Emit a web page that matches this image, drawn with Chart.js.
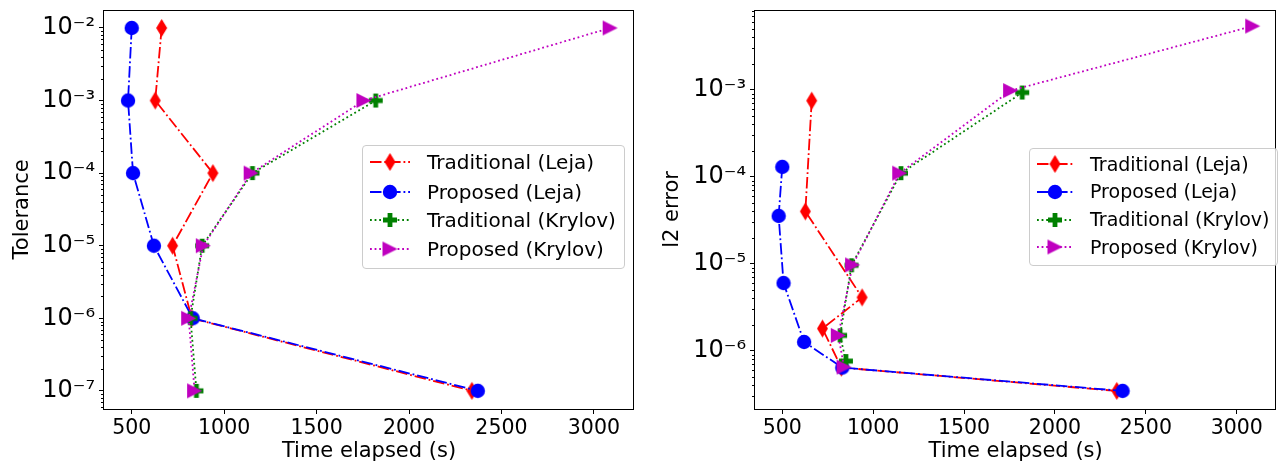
<!DOCTYPE html>
<html><head><meta charset="utf-8">
<script src="https://cdn.jsdelivr.net/npm/chart.js@4/dist/chart.umd.min.js"></script>
<style>
html,body{margin:0;padding:0;background:#fff;width:1286px;height:464px;overflow:hidden;font-family:"DejaVu Sans",sans-serif;}
.wrap{position:absolute;top:0;height:464px;}
.legend{position:absolute;background:rgba(255,255,255,0.8);border:1px solid #cccccc;border-radius:4px;box-sizing:border-box;}
.legend canvas{position:absolute;}
.legend span{position:absolute;white-space:nowrap;color:#000;font-family:"DejaVu Sans",sans-serif;}
</style></head><body>
<div class="wrap" style="left:0;width:650px"><canvas id="c1" width="650" height="464"></canvas></div>
<div class="wrap" style="left:650px;width:636px"><canvas id="c2" width="636" height="464"></canvas></div>
<div id="leg1" class="legend"></div>
<div id="leg2" class="legend"></div>
<script>
// ---- data ----
const seriesNames = ['Traditional (Leja)', 'Proposed (Leja)', 'Traditional (Krylov)', 'Proposed (Krylov)'];
const tolerance = [1e-2, 1e-3, 1e-4, 1e-5, 1e-6, 1e-7];
const timeTradLeja   = [662, 627, 939, 721, 825, 2340];
const timePropLeja   = [500, 480, 507, 620, 830, 2372];
const timeTradKrylov = [null, 1820, 1153, 881, 818, 850];
const timePropKrylov = [3088, 1756, 1146, 887, 808, 840];
const l2TradLeja   = [7.5e-4, 4.0e-5, 4.1e-6, 1.8e-6, 6.4e-7, 3.45e-7];
const l2PropLeja   = [1.3e-4, 3.55e-5, 6.0e-6, 1.26e-6, 6.4e-7, 3.45e-7];
const l2TradKrylov = [null, 9.3e-4, 1.1e-4, 9.6e-6, 1.5e-6, 7.6e-7];
const l2PropKrylov = [5.4e-3, 9.8e-4, 1.1e-4, 9.7e-6, 1.5e-6, 6.5e-7];
const xTickValues = [500, 1000, 1500, 2000, 2500, 3000];
const tolTickValues = [1e-7, 1e-6, 1e-5, 1e-4, 1e-3, 1e-2];
const l2TickValues = [1e-6, 1e-5, 1e-4, 1e-3];

const times = [timeTradLeja, timePropLeja, timeTradKrylov, timePropKrylov];
const tolSeries = [tolerance, tolerance, tolerance, tolerance];
const l2Series = [l2TradLeja, l2PropLeja, l2TradKrylov, l2PropKrylov];

// ---- styles ----
const FONT = '"DejaVu Sans", sans-serif';
const colors = ['#ff0000', '#0000ff', '#008000', '#bf00bf'];
const LW = 1.8;
const dashDot = [11.5, 2.9, 1.8, 2.9];
const dotted = [1.8, 2.8];
const dashes = [dashDot, dashDot, dotted, dotted];
const markerKinds = ['diamond', 'circle', 'plus', 'triR'];

function makeMarker(kind, color) {
  const c = document.createElement('canvas');
  let w = 16, h = 16;
  if (kind === 'diamond') { w = 13; h = 20; }
  if (kind === 'triR') { w = 17; h = 17; }
  c.width = w; c.height = h;
  const g = c.getContext('2d');
  g.fillStyle = color;
  g.beginPath();
  if (kind === 'diamond') {
    g.moveTo(6.5, 1); g.lineTo(12, 10); g.lineTo(6.5, 19); g.lineTo(1, 10); g.closePath();
  } else if (kind === 'circle') {
    g.arc(8, 8, 7.2, 0, Math.PI * 2);
  } else if (kind === 'plus') {
    const a = 1, b = 5.6, cc = 10.4, d = 15;
    g.moveTo(b, a); g.lineTo(cc, a); g.lineTo(cc, b); g.lineTo(d, b); g.lineTo(d, cc); g.lineTo(cc, cc);
    g.lineTo(cc, d); g.lineTo(b, d); g.lineTo(b, cc); g.lineTo(a, cc); g.lineTo(a, b); g.lineTo(b, b); g.closePath();
  } else {
    g.moveTo(1, 1); g.lineTo(16, 8.5); g.lineTo(1, 16); g.closePath();
  }
  g.fill();
  return c;
}
const markers = markerKinds.map((k, i) => makeMarker(k, colors[i]));

function sup(n) {
  const m = {'-': '\u207B', '0': '\u2070', '1': '\u00B9', '2': '\u00B2', '3': '\u00B3', '4': '\u2074', '5': '\u2075', '6': '\u2076', '7': '\u2077', '8': '\u2078', '9': '\u2079'};
  return String(n).split('').map(ch => m[ch]).join('');
}

const framePlugin = {
  id: 'frame',
  afterDraw(chart) {
    const {ctx, chartArea: a, scales} = chart;
    const ys = scales.y;
    ctx.save();
    ctx.strokeStyle = '#000';
    ctx.lineWidth = 1;
    const lo = Math.floor(Math.log10(ys.min)), hi = Math.ceil(Math.log10(ys.max));
    ctx.beginPath();
    for (let d = lo; d <= hi; d++) {
      for (let k = 2; k <= 9; k++) {
        const v = k * Math.pow(10, d);
        if (v < ys.min || v > ys.max) continue;
        const py = Math.round(ys.getPixelForValue(v)) + 0.5;
        ctx.moveTo(a.left - 3, py); ctx.lineTo(a.left, py);
      }
    }
    ctx.stroke();
    const x0 = Math.round(a.left) - 0.5, x1 = Math.round(a.right) - 0.5;
    const y0 = Math.round(a.top) + 0.5, y1 = Math.round(a.bottom) + 0.5;
    ctx.strokeRect(x0, y0, x1 - x0, y1 - y0);
    ctx.restore();
  }
};

function makeChart(id, ySeries, yMin, yMax, yTicks, yTitle, yAxisWidth, padRight) {
  const datasets = seriesNames.map((name, s) => ({
    label: name,
    data: times[s].map((t, i) => (t == null || ySeries[s][i] == null) ? null : {x: t, y: ySeries[s][i]}).filter(Boolean),
    showLine: true,
    borderColor: colors[s],
    backgroundColor: colors[s],
    borderWidth: LW,
    borderDash: dashes[s],
    pointStyle: markers[s],
    pointRadius: 8,
    pointHoverRadius: 8,
    tension: 0,
    order: 4 - s,
    clip: false
  }));
  return new Chart(document.getElementById(id), {
    type: 'scatter',
    data: {datasets},
    plugins: [framePlugin],
    options: {
      responsive: false,
      animation: false,
      devicePixelRatio: 1,
      layout: {padding: {top: 5, right: padRight, left: 0, bottom: 0}},
      plugins: {legend: {display: false}, tooltip: {enabled: false}},
      scales: {
        x: {
          type: 'linear', min: 350, max: 3217,
          afterBuildTicks(s) { s.ticks = xTickValues.map(v => ({value: v})); },
          afterFit(s) { s.height = 55; s.paddingLeft = 0; s.paddingRight = 0; },
          grid: {drawOnChartArea: false, drawTicks: true, tickLength: 5, tickColor: '#000', tickWidth: 1},
          border: {display: false},
          ticks: {color: '#000', padding: 2, font: {family: FONT, size: 20.5}, maxRotation: 0, autoSkip: false, callback: v => String(v)},
          title: {display: true, text: 'Time elapsed (s)', color: '#000', font: {family: FONT, size: 21, lineHeight: 1}, padding: {top: 0, bottom: 2}}
        },
        y: {
          type: 'logarithmic', min: yMin, max: yMax,
          afterBuildTicks(s) { s.ticks = yTicks.map(v => ({value: v})); },
          afterFit(s) { s.width = yAxisWidth; s.paddingTop = 0; s.paddingBottom = 0; },
          grid: {drawOnChartArea: false, drawTicks: true, tickLength: 5, tickColor: '#000', tickWidth: 1},
          border: {display: false},
          ticks: {color: '#000', padding: 4, font: {family: FONT, size: 24}, autoSkip: false,
            callback: v => '10' + sup(Math.round(Math.log10(v)))},
          title: {display: true, text: yTitle, color: '#000', font: {family: FONT, size: 21, lineHeight: 1}, padding: {top: 12.5, bottom: 0}}
        }
      }
    }
  });
}

makeChart('c1', tolSeries, Math.pow(10, -7.25), Math.pow(10, -1.75), tolTickValues, 'Tolerance', 104, 16);
makeChart('c2', l2Series, Math.pow(10, -6.67), Math.pow(10, -2.08), l2TickValues, 'l2 error', 105, 1);

function buildLegend(id, box, iconX0, iconW, textX, rowYs, fontSize) {
  const el = document.getElementById(id);
  el.style.left = box.x + 'px'; el.style.top = box.y + 'px';
  el.style.width = box.w + 'px'; el.style.height = box.h + 'px';
  seriesNames.forEach((name, s) => {
    const cy = rowYs[s] - box.y - 1;
    const cv = document.createElement('canvas');
    cv.width = iconW; cv.height = 24;
    cv.style.left = (iconX0 - box.x - 1) + 'px';
    cv.style.top = (cy - 12) + 'px';
    const g = cv.getContext('2d');
    g.strokeStyle = colors[s]; g.lineWidth = LW; g.setLineDash(dashes[s]);
    g.beginPath(); g.moveTo(0, 12); g.lineTo(iconW, 12); g.stroke();
    const m = markers[s];
    g.drawImage(m, iconW / 2 - m.width / 2, 12 - m.height / 2);
    el.appendChild(cv);
    const sp = document.createElement('span');
    sp.textContent = name;
    const lh = fontSize * 1.2;
    sp.style.fontSize = fontSize + 'px';
    sp.style.lineHeight = lh + 'px';
    sp.style.left = (textX - box.x - 1) + 'px';
    sp.style.top = (cy - lh / 2) + 'px';
    el.appendChild(sp);
  });
}
buildLegend('leg1', {x: 362, y: 145, w: 263, h: 124}, 370, 40, 427, [162, 191.5, 220, 248.5], 20);
buildLegend('leg2', {x: 1029, y: 148, w: 249, h: 118}, 1037, 36, 1090, [164, 191.7, 219.5, 247], 19);
</script>
</body></html>
